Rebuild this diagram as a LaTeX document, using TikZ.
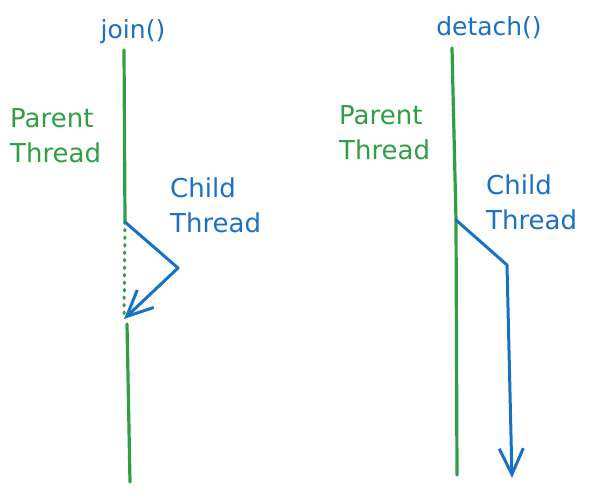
\documentclass[tikz,border=0pt]{standalone}
\usepackage{fontspec}
\setmainfont{DejaVu Sans}
\usetikzlibrary{arrows.meta,positioning}
\definecolor{thgreen}{RGB}{47,158,68}
\definecolor{thblue}{RGB}{25,113,194}

\begin{document}
\begin{tikzpicture}[
    x=1pt, y=-1pt,
    parentline/.style={draw=thgreen, line width=3.2pt, line cap=round},
    parentwait/.style={draw=thgreen, line width=3pt, line cap=round, dash pattern=on 1.5pt off 6pt},
    childline/.style={draw=thblue, line width=3pt, line cap=round, line join=round},
    childarrow/.style={childline, -{Straight Barb[length=26pt, width=24pt, line width=3pt]}},
    calllabel/.style={inner sep=0pt, text=thblue, font=\fontsize{25}{30}\selectfont},
    parentlabel/.style={inner sep=0pt, anchor=west, align=left, text=thgreen, font=\fontsize{26}{35}\selectfont},
    childlabel/.style={inner sep=0pt, anchor=west, align=left, text=thblue, font=\fontsize{26}{35}\selectfont}
]
\useasboundingbox (0,0) rectangle (595,493);
% join()
\coordinate (jtop) at (124,50);
\coordinate (jfork) at (125,222);
\coordinate (jturn) at (178,268);
\coordinate (jmeet) at (124,319);
\coordinate (jresume) at (127,324);
\coordinate (jbot) at (130,482);
\node[calllabel] (joincall) at (133,32) {join()};
\node[parentlabel] (jparent) at (10,136) {Parent\\Thread};
\node[childlabel] (jchild) at (170,205) {Child\\Thread};
\draw[parentline] (jtop) -- (jfork);
\draw[parentwait] (jfork) -- (jmeet);
\draw[parentline] (jresume) -- (jbot);
\draw[childarrow] (jfork) -- (jturn) -- (jmeet);
% detach()
\coordinate (dtop) at (452,48);
\coordinate (dfork) at (456,220);
\coordinate (dturn) at (507,265);
\coordinate (dend) at (512,478);
\coordinate (dbot) at (457,475);
\node[calllabel] (detachcall) at (489,28) {detach()};
\node[parentlabel] (dparent) at (339,133) {Parent\\Thread};
\node[childlabel] (dchild) at (486,202) {Child\\Thread};
\draw[parentline] (dtop) -- (dfork) -- (dbot);
\draw[childarrow] (dfork) -- (dturn) -- (dend);
\end{tikzpicture}
\end{document}
